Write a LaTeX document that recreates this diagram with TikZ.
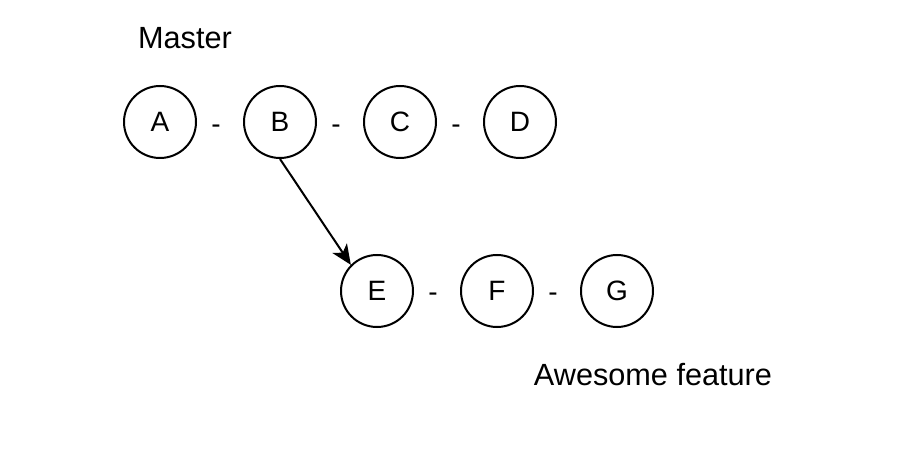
\documentclass[tikz,border=0pt]{standalone}
\usepackage{fontspec}
\setmainfont{Liberation Sans}
\usetikzlibrary{arrows.meta}
\begin{document}
\begin{tikzpicture}[x=0.75pt,y=-0.75pt,
  commit/.style={circle,draw,line width=1.5pt,minimum size=54pt,inner sep=0pt,font=\fontsize{21}{24}\selectfont},
  dashlbl/.style={font=\fontsize{21}{24}\selectfont,inner sep=0pt},
  title/.style={font=\fontsize{23}{27}\selectfont,inner sep=0pt}]
\useasboundingbox[fill=white] (0,0) rectangle (906,452);
\node[commit] (A) at (160,122) {A};
\node[commit] (B) at (280,122) {B};
\node[commit] (C) at (400,122) {C};
\node[commit] (D) at (520,122) {D};
\node[commit] (E) at (377,291) {E};
\node[commit] (F) at (497,291) {F};
\node[commit] (G) at (617,291) {G};
\node[dashlbl] (d1) at (216,129) {-};
\node[dashlbl] (d2) at (336,129) {-};
\node[dashlbl] (d3) at (456,129) {-};
\node[dashlbl] (d4) at (433,297) {-};
\node[dashlbl] (d5) at (553,297) {-};
\node[title] (master) at (185,38) {Master};
\node[title] (feat) at (653,375) {Awesome feature};
\draw[line width=1.5pt,-{Stealth[length=15pt,width=13pt,inset=4pt]}] (B.south) -- (E.135);
\end{tikzpicture}
\end{document}
